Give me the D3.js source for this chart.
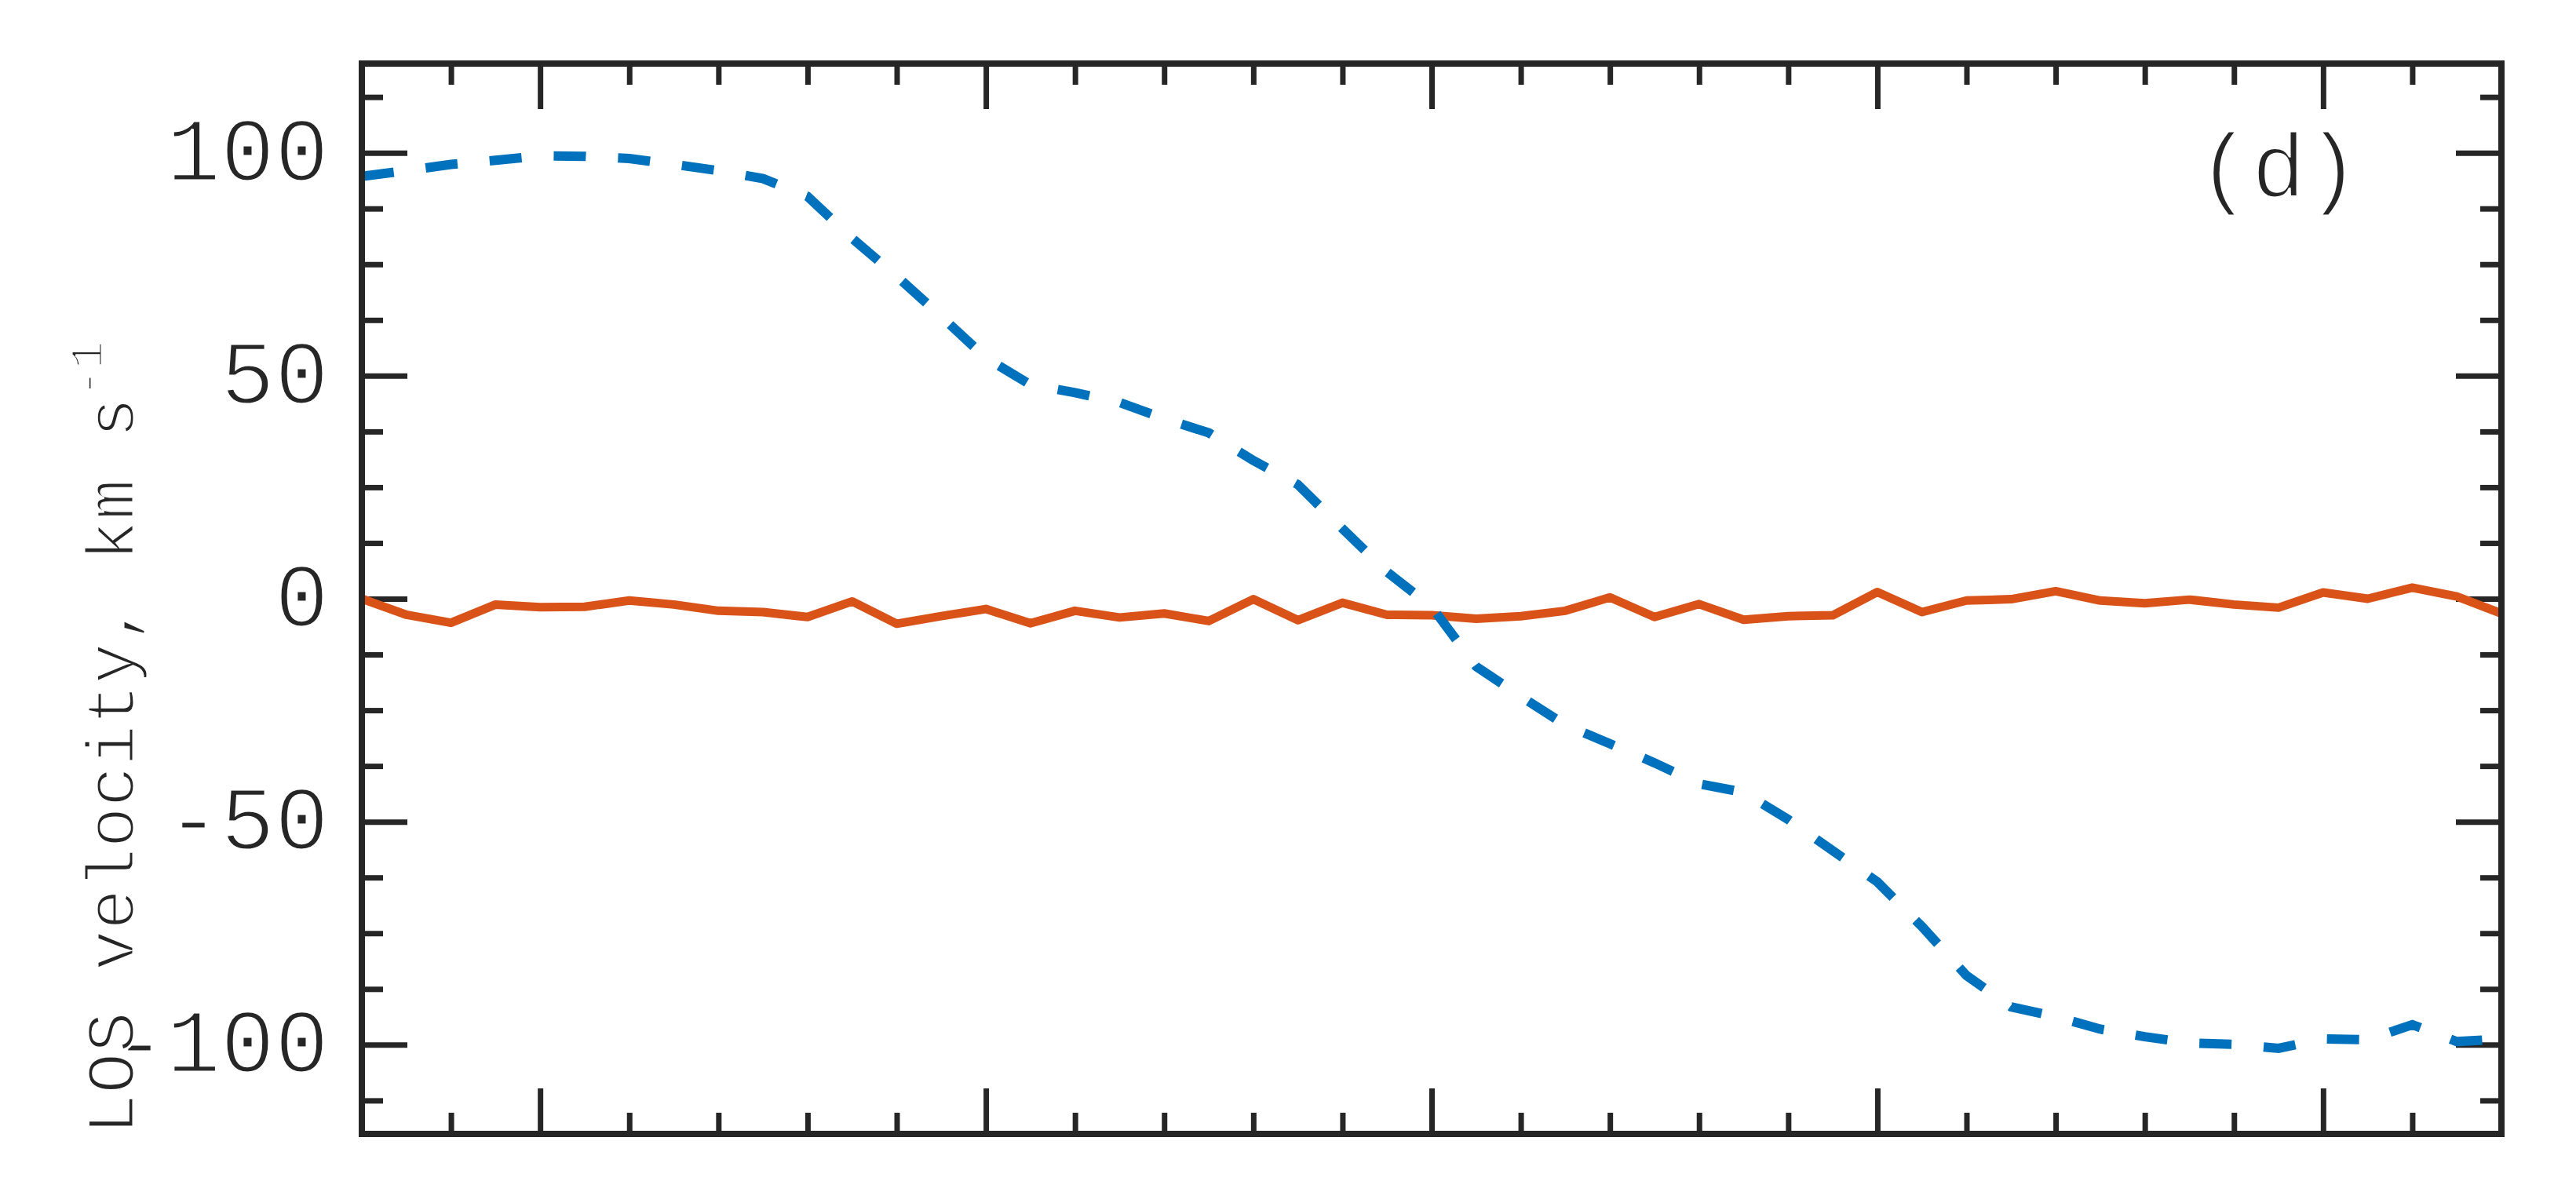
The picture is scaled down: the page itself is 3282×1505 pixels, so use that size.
<!DOCTYPE html>
<html lang="en">
<head>
    <meta charset="UTF-8">
    <title>LOS velocity (d)</title>
    <script src="https://d3js.org/d3.v7.min.js"></script>
    <style>
        body {
            margin: 0;
            background-color: #ffffff;
        }
        svg {
            display: block;
        }
        .tick text, .lbl {
            font-family: "Courier New", "Liberation Mono", monospace;
            fill: #262626;
            stroke: #ffffff;
            stroke-width: 3px;
        }
    </style>
</head>
<body>
    <svg id="chart"></svg>
    <script>
        // sample positions along the slit
        const positions = [-12, -11.5, -11, -10.5, -10, -9.5, -9, -8.5, -8, -7.5, -7, -6.5, -6, -5.5, -5, -4.5,
            -4, -3.5, -3, -2.5, -2, -1.5, -1, -0.5, 0, 0.5, 1, 1.5, 2, 2.5, 3, 3.5, 4, 4.5, 5, 5.5,
            6, 6.5, 7, 7.5, 8, 8.5, 9, 9.5, 10, 10.5, 11, 11.5, 12];

        // dashed blue series
        const rotation = [94.7, 96.0, 97.4, 98.3, 99.3, 99.2, 98.7, 97.4, 96.0, 94.2, 90.2, 80.8, 72.3, 63.3,
            54.0, 48.0, 46.2, 44.0, 40.4, 37.2, 31.0, 25.6, 15.7, 6.0, -1.8, -15.2, -21.9, -28.3, -32.5,
            -36.8, -41.5, -43.4, -49.5, -56.5, -63.5, -73.5, -84.5, -91.5, -93.7, -96.5, -98.2, -99.6,
            -99.9, -100.8, -98.7, -98.9, -95.5, -99.3, -98.7];

        // solid orange series
        const residual = [0, -3.6, -5.4, -1.3, -1.9, -1.8, -0.4, -1.3, -2.7, -3.0, -4.1, -0.6, -5.6, -3.9,
            -2.3, -5.5, -2.7, -4.2, -3.3, -5.0, -0.1, -4.8, -0.9, -3.6, -3.7, -4.5, -3.9, -2.7, 0.3,
            -4.1, -1.2, -4.7, -3.9, -3.7, 1.5, -3.0, -0.4, -0.1, 1.7, -0.4, -1.0, -0.2, -1.3, -2.0,
            1.4, 0.0, 2.5, 0.5, -3.3];

        const xMajor = [-10, -5, 0, 5, 10];
        const xMinor = [-11, -9, -8, -7, -6, -4, -3, -2, -1, 1, 2, 3, 4, 6, 7, 8, 9, 11];
        const yMajor = [-100, -50, 0, 50, 100];
        const yMinor = [-112.5, -87.5, -75, -62.5, -37.5, -25, -12.5, 12.5, 25, 37.5, 62.5, 75, 87.5, 112.5];

        const width = 3282, height = 1505;
        const margin = { top: 81, right: 95, bottom: 60, left: 461 };
        const plotW = width - margin.left - margin.right;
        const plotH = height - margin.top - margin.bottom;
        const ink = "#262626";

        const svg = d3.select("#chart")
            .attr("width", width)
            .attr("height", height);

        const g = svg.append("g")
            .attr("transform", `translate(${margin.left},${margin.top})`);

        const x = d3.scaleLinear().domain([-12, 12]).range([0, plotW]);
        const y = d3.scaleLinear().domain([-120, 120]).range([plotH, 0]);

        const majorLen = 58, minorLen = 27;

        function styleAxis(sel) {
            sel.select(".domain").remove();
            sel.selectAll(".tick line").attr("stroke", ink).attr("stroke-width", 7);
        }

        // bottom and top (bottom labels sit mostly below the page edge, as in the source figure)
        g.append("g").attr("transform", `translate(0,${plotH})`)
            .call(d3.axisBottom(x).tickValues(xMajor).tickSize(-majorLen).tickPadding(71).tickFormat(d => d))
            .call(styleAxis)
            .call(s => s.selectAll("text").attr("font-size", 115));
        g.append("g").attr("transform", `translate(0,${plotH})`)
            .call(d3.axisBottom(x).tickValues(xMinor).tickSize(-minorLen).tickFormat(""))
            .call(styleAxis);
        g.append("g")
            .call(d3.axisTop(x).tickValues(xMajor).tickSize(-majorLen).tickFormat(""))
            .call(styleAxis);
        g.append("g")
            .call(d3.axisTop(x).tickValues(xMinor).tickSize(-minorLen).tickFormat(""))
            .call(styleAxis);

        // left and right
        g.append("g")
            .call(d3.axisLeft(y).tickValues(yMajor).tickSize(-majorLen).tickPadding(42).tickFormat(d => d))
            .call(styleAxis)
            .call(s => s.selectAll("text").attr("font-size", 115).attr("dy", "0.3em"));
        g.append("g")
            .call(d3.axisLeft(y).tickValues(yMinor).tickSize(-minorLen).tickFormat(""))
            .call(styleAxis);
        g.append("g").attr("transform", `translate(${plotW},0)`)
            .call(d3.axisRight(y).tickValues(yMajor).tickSize(-majorLen).tickFormat(""))
            .call(styleAxis);
        g.append("g").attr("transform", `translate(${plotW},0)`)
            .call(d3.axisRight(y).tickValues(yMinor).tickSize(-minorLen).tickFormat(""))
            .call(styleAxis);

        // lines
        const line = vals => d3.line()
            .x((d, i) => x(positions[i]))
            .y(d => y(d))(vals);

        g.append("path")
            .attr("d", line(residual))
            .attr("fill", "none")
            .attr("stroke", "#D95319")
            .attr("stroke-width", 11)
            .attr("stroke-linejoin", "round");

        g.append("path")
            .attr("d", line(rotation))
            .attr("fill", "none")
            .attr("stroke", "#0072BD")
            .attr("stroke-width", 12)
            .attr("stroke-dasharray", "41,41");

        // box
        g.append("rect")
            .attr("width", plotW)
            .attr("height", plotH)
            .attr("fill", "none")
            .attr("stroke", ink)
            .attr("stroke-width", 8);

        // panel tag
        g.append("text")
            .attr("class", "lbl")
            .attr("x", x(9.5))
            .attr("y", 170)
            .attr("text-anchor", "middle")
            .attr("font-size", 115)
            .text("(d)");

        // y label
        const yl = svg.append("text")
            .attr("class", "lbl")
            .attr("transform", "translate(170,1446) rotate(-90)")
            .attr("text-anchor", "start")
            .attr("font-size", 87);
        yl.append("tspan").text("LOS velocity, km s");
        yl.append("tspan").attr("font-size", 60).attr("dy", -40).text("-1");
    </script>
</body>
</html>
